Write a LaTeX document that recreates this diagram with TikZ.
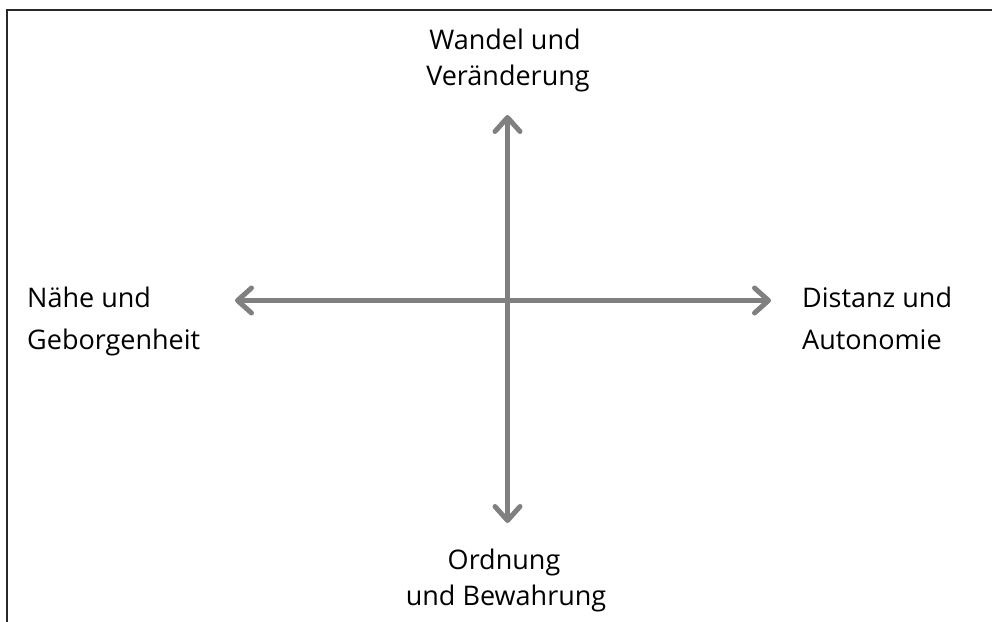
\documentclass[tikz,border=0pt]{standalone}
\usepackage{fontspec}
\setmainfont{Open Sans}
\usetikzlibrary{arrows.meta}
\definecolor{axisgray}{RGB}{128,128,128}
\definecolor{framegray}{RGB}{40,40,40}
\tikzset{
  axis/.style={draw=axisgray, line width=5pt,
    {Straight Barb[length=14pt,width=25pt,round]}-{Straight Barb[length=14pt,width=25pt,round]}},
  lbl/.style={inner sep=0pt, font=\fontsize{27}{36}\selectfont, text=black},
  frame/.style={draw=framegray, line width=2pt}
}
\begin{document}
\begin{tikzpicture}[x=1pt, y=-1pt]
  \useasboundingbox (0,0) rectangle (992,621);
  % open frame: left and top edges only
  \coordinate (fbl) at (7,622);
  \coordinate (ftl) at (7,10);
  \coordinate (ftr) at (993,10);
  \draw[frame] (fbl) -- (ftl) -- (ftr);

  % axis end points
  \coordinate (up) at (507.5,115);
  \coordinate (down) at (507.5,523);
  \coordinate (west) at (235,300.5);
  \coordinate (east) at (771,300.5);
  \draw[axis] (west) -- (east);
  \draw[axis] (down) -- (up);

  % top label
  \node[lbl, anchor=base] (t1) at (505,49) {Wandel und};
  \node[lbl, anchor=base] (t2) at (508,85) {Veränderung};
  % bottom label
  \node[lbl, anchor=base] (b1) at (504,569) {Ordnung};
  \node[lbl, anchor=base] (b2) at (506,605) {und Bewahrung};
  % left label
  \node[lbl, anchor=base west] (l1) at (27,307) {Nähe und};
  \node[lbl, anchor=base west] (l2) at (27,349) {Geborgenheit};
  % right label
  \node[lbl, anchor=base west] (r1) at (802,307) {Distanz und};
  \node[lbl, anchor=base west] (r2) at (802,349) {Autonomie};
\end{tikzpicture}
\end{document}
